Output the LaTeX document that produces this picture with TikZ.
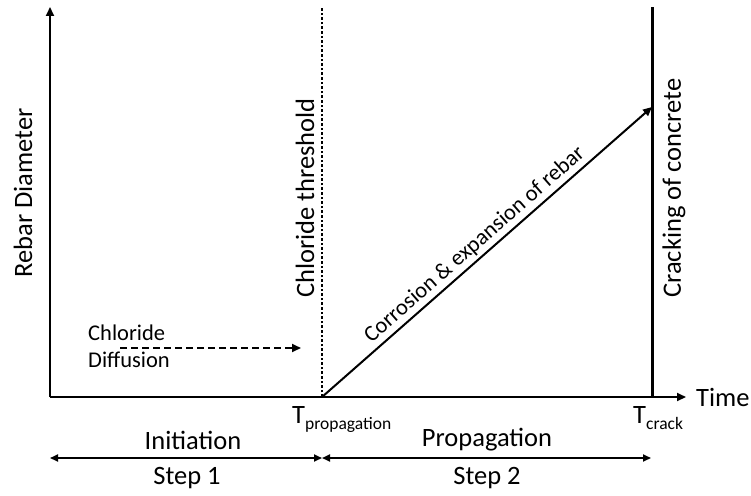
\documentclass[tikz,border=0pt]{standalone}
\usepackage{fontspec}
\setmainfont{Carlito}
\usetikzlibrary{positioning, arrows.meta}

\begin{document}
\begin{tikzpicture}[x=1pt, y=-1pt, font=\fontsize{26.5}{31}\selectfont]
  \tikzstyle{axis}=[line width=2pt, -{Triangle[length=9pt, width=8pt]}]
  \tikzstyle{span}=[line width=1.8pt, {Triangle[length=8pt, width=7pt]}-{Triangle[length=8pt, width=7pt]}]
  \tikzstyle{vlabel}=[rotate=90, inner sep=0pt]
  \tikzstyle{small}=[font=\fontsize{22.5}{27}\selectfont, inner sep=0pt, align=left]
  \newcommand{\sub}[1]{\raisebox{-6pt}{\fontsize{17.5}{20}\selectfont #1}}
  \useasboundingbox (0,0) rectangle (751,495);

  % axes
  \coordinate (origin) at (50,397);
  \coordinate (ytop) at (50,7);
  \coordinate (xend) at (686,397);
  \coordinate (tprop) at (322,397);
  \coordinate (tcrack) at (652,397);
  \draw[axis] (origin) -- (ytop);
  \draw[axis] (origin) -- (xend);
  \node[right=10pt of xend, inner sep=0pt] (time) {Time};
  \node[vlabel] (diam) at (23,193) {Rebar Diameter};

  % threshold and cracking lines
  \coordinate (thtop) at (322,7);
  \coordinate (crtop) at (652,7);
  \draw[line width=2.6pt, dash pattern=on 2.6pt off 2pt] (tprop) -- (thtop);
  \draw[line width=3pt] (tcrack) -- (crtop);
  \node[vlabel] (thresh) at (305,198) {Chloride threshold};
  \node[vlabel] (crack) at (674,188) {Cracking of concrete};

  % corrosion
  \coordinate (peak) at (652,107);
  \draw[axis] (tprop) -- node[small, sloped, above=3pt, pos=0.49] (corr) {Corrosion \& expansion of rebar} (peak);

  % diffusion
  \node[small, anchor=west] (chl) at (88,333) {Chloride};
  \node[small, anchor=west] (diff) at (88,360) {Diffusion};
  \coordinate (dstart) at (120,348);
  \coordinate (dend) at (301,348);
  \draw[axis, line width=1.8pt, dash pattern=on 7pt off 4pt] (dstart) -- (dend);

  % time marks
  \node[anchor=base west, inner sep=0pt] (tp) at (292,423) {T\sub{propagation}};
  \node[anchor=base west, inner sep=0pt] (tc) at (633,423) {T\sub{crack}};

  % steps
  \coordinate (sleft) at (50,458);
  \coordinate (smid) at (322,458);
  \coordinate (sright) at (651,458);
  \draw[span] (sleft) -- (smid);
  \draw[span] (smid) -- (sright);
  \node (init) at (193,440) {Initiation};
  \node (prop) at (487,440) {Propagation};
  \node (step1) at (187,478) {Step 1};
  \node (step2) at (487,478) {Step 2};
\end{tikzpicture}
\end{document}
